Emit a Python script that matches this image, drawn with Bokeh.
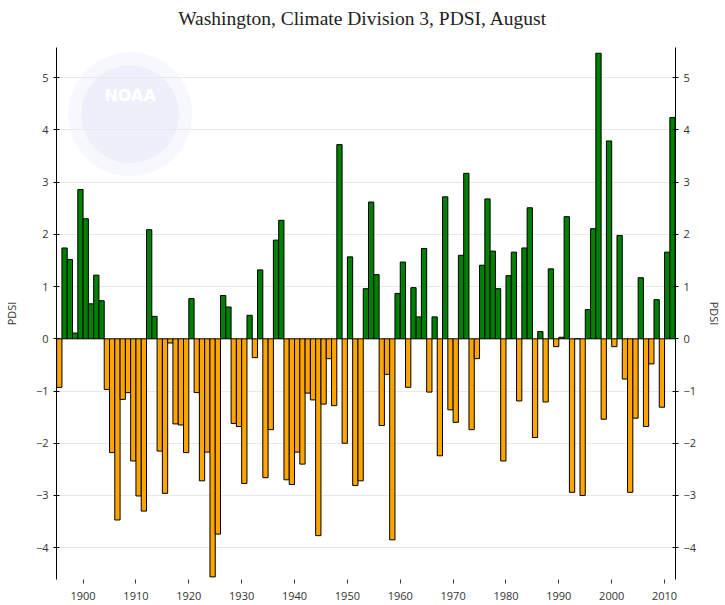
from bokeh.plotting import figure
from bokeh.layouts import column
from bokeh.models import Range1d, LinearAxis, FixedTicker, ColumnDataSource
from bokeh.transform import dodge
from bokeh.embed import file_html
from bokeh.resources import INLINE
from bokeh.core.properties import value

years = list(range(1895, 2012))
pdsi = [
    -0.93, 1.74, 1.52, 0.11, 2.86, 2.30, 0.67, 1.22, 0.73, -0.97,   # 1895-1904
    -2.18, -3.47, -1.16, -1.03, -2.34, -3.01, -3.30, 2.09, 0.43, -2.15,  # 1905-1914
    -2.96, -0.08, -1.63, -1.65, -2.18, 0.77, -1.03, -2.72, -2.17, -4.56,  # 1915-1924
    -3.74, 0.83, 0.61, -1.62, -1.68, -2.77, 0.45, -0.36, 1.32, -2.66,  # 1925-1934
    -1.74, 1.89, 2.27, -2.70, -2.79, -2.17, -2.40, -1.04, -1.17, -3.77,  # 1935-1944
    -1.25, -0.38, -1.28, 3.72, -2.00, 1.57, -2.81, -2.72, 0.96, 2.62,  # 1945-1954
    1.23, -1.66, -0.68, -3.85, 0.87, 1.47, -0.93, 0.98, 0.42, 1.73,  # 1955-1964
    -1.02, 0.42, -2.24, 2.72, -1.36, -1.60, 1.60, 3.17, -1.74, -0.38,  # 1965-1974
    1.41, 2.68, 1.68, 0.96, -2.34, 1.21, 1.66, -1.19, 1.74, 2.51,  # 1975-1984
    -1.89, 0.14, -1.21, 1.34, -0.15, 0.03, 2.34, -2.94, 0.00, -3.00,  # 1985-1994
    0.56, 2.11, 5.47, -1.54, 3.79, -0.15, 1.98, -0.77, -2.94, -1.52,  # 1995-2004
    1.17, -1.68, -0.48, 0.75, -1.31, 1.66, 4.24,  # 2005-2011
]
x_ticks = list(range(1900, 2011, 10))
y_ticks = list(range(-4, 6))
title_text = "Washington, Climate Division 3, PDSI, August"
axis_name = "PDSI"

colors = ["#008000" if v >= 0 else "#FFA500" for v in pdsi]
src = ColumnDataSource(data=dict(year=years, pdsi=pdsi, color=colors))

FONT = "Open Sans"

# ---- title strip (a figure of its own) ----
pt = figure(width=725, height=47, output_backend="svg", toolbar_location=None,
            x_range=Range1d(0, 1), y_range=Range1d(0, 1),
            x_axis_type=None, y_axis_type=None,
            min_border_left=0, min_border_right=0, min_border_top=0, min_border_bottom=0)
pt.title = None
pt.outline_line_color = None
pt.xgrid.grid_line_color = None
pt.ygrid.grid_line_color = None
tsrc = ColumnDataSource(data=dict(x=[0.4947], y=[0.62], t=[title_text]))
pt.text(x="x", y="y", text="t", source=tsrc, text_font=value("Liberation Serif"),
        text_font_size="19.5px", text_color="#222222", text_align="center",
        text_baseline="middle")

# ---- main chart ----
p = figure(width=725, height=558, output_backend="svg", toolbar_location=None,
           x_range=Range1d(1894.97, 2012.07), y_range=Range1d(-4.61, 5.58),
           min_border_left=56, min_border_right=47, min_border_top=0, min_border_bottom=26)
p.title = None
p.outline_line_color = None

# faint NOAA watermark
wm = ColumnDataSource(data=dict(x=[1908.9], y=[4.30], ty=[4.66], t=["NOAA"]))
p.annulus(x="x", y="y", inner_radius=49, outer_radius=62, inner_radius_units="screen",
          outer_radius_units="screen", source=wm, fill_color="#f7f8fe", line_color=None, level="image")
p.scatter(x="x", y="y", size=98, marker="circle", source=wm, fill_color="#edeffb", line_color=None, level="image")
p.text(x="x", y="ty", text="t", source=wm, text_color="white", text_font_size="16px",
       text_font=value("DejaVu Sans"), text_font_style="bold",
       text_align="center", text_baseline="middle", level="image")

p.vbar(x=dodge("year", 0.5, range=p.x_range), top="pdsi", bottom=0, width=1.0, source=src,
       fill_color="color", line_color="black", line_width=1)

p.xgrid.grid_line_color = None
p.ygrid.grid_line_color = "#e9e9e9"
p.ygrid.ticker = FixedTicker(ticks=y_ticks)

# x axis
xa = p.xaxis[0]
xa.ticker = FixedTicker(ticks=x_ticks)
xa.axis_line_color = None
xa.major_tick_in = 0
xa.major_tick_out = 4
xa.minor_tick_line_color = None
xa.major_tick_line_color = "#333333"
xa.major_label_text_font = FONT
xa.major_label_text_font_size = "11px"
xa.major_label_text_color = "#333333"
xa.major_label_standoff = 8


def style_y(ax, standoff):
    ax.ticker = FixedTicker(ticks=y_ticks)
    ax.axis_label = axis_name
    ax.axis_label_text_font = FONT
    ax.axis_label_text_font_size = "11px"
    ax.axis_label_text_font_style = "normal"
    ax.axis_label_text_color = "#333333"
    ax.axis_label_standoff = standoff
    ax.major_tick_in = 3
    ax.major_tick_out = 3
    ax.minor_tick_line_color = None
    ax.axis_line_color = "black"
    ax.major_tick_line_color = "black"
    ax.major_label_text_font = FONT
    ax.major_label_text_font_size = "11px"
    ax.major_label_text_color = "#333333"
    ax.major_label_standoff = 5


style_y(p.yaxis[0], 14)
ra = LinearAxis()
style_y(ra, 8)
p.add_layout(ra, "right")

layout = column(pt, p, spacing=0)
open("out.html", "w").write(file_html(layout, INLINE))
